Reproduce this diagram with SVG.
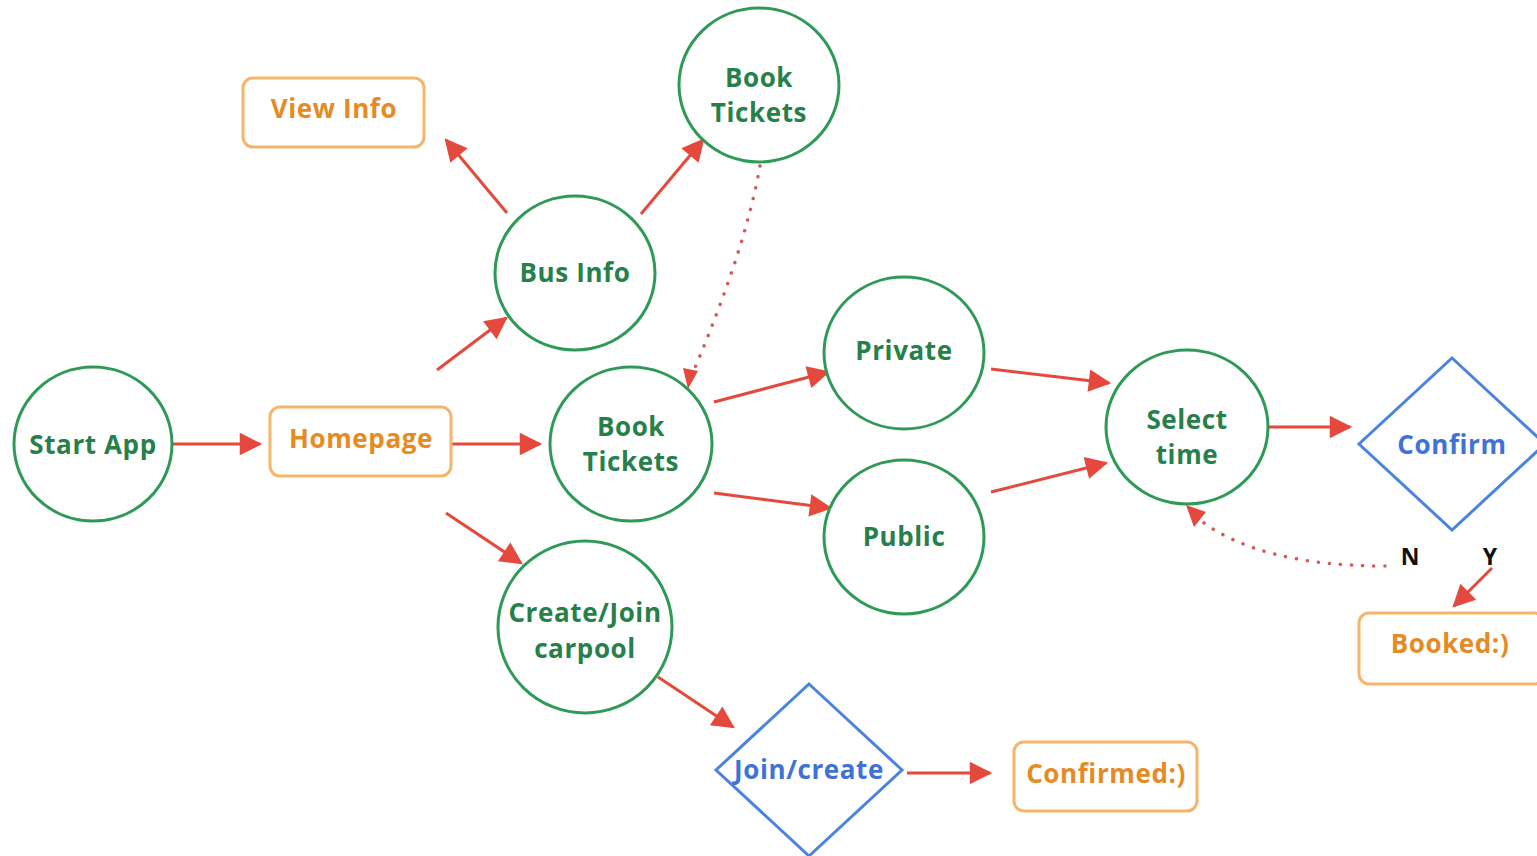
<svg xmlns="http://www.w3.org/2000/svg" width="1537" height="856" viewBox="0 0 1537 856">
<style>
.c{fill:#fff;stroke:#2f9a57;stroke-width:3}
.r{fill:#fff;stroke:#f5b56b;stroke-width:3}
.d{fill:#fff;stroke:#4a84e0;stroke-width:3}
text{font-family:"Open Sans","Liberation Sans",sans-serif;font-weight:700;font-size:26px;letter-spacing:0.6px;text-anchor:middle;dominant-baseline:central}
.tg{fill:#25804a}
.to{fill:#e68a24}
.tb{fill:#3f72d6}
.tk{fill:#111;font-size:23px;letter-spacing:0}
.a{fill:none;stroke:#e5483c;stroke-width:3}
.dt{fill:none;stroke:#d45b55;stroke-width:3.5;stroke-dasharray:0.1 11;stroke-linecap:round}
</style>
<defs>
<marker id="ah" viewBox="0 0 10 10" refX="9" refY="5" markerWidth="8.5" markerHeight="7.5" markerUnits="strokeWidth" orient="auto">
<path d="M0,0 L10,5 L0,10 z" fill="#e5483c"/>
</marker>
</defs>
<rect width="1537" height="856" fill="#fff"/>
<g id="connectors">
<line class="a" x1="173" y1="444" x2="260" y2="444" marker-end="url(#ah)"/>
<line class="a" x1="452" y1="444" x2="540" y2="444" marker-end="url(#ah)"/>
<line class="a" x1="437" y1="370" x2="506" y2="318" marker-end="url(#ah)"/>
<line class="a" x1="446" y1="513" x2="521" y2="563" marker-end="url(#ah)"/>
<line class="a" x1="507" y1="213" x2="446" y2="140" marker-end="url(#ah)"/>
<line class="a" x1="641" y1="214" x2="703" y2="140" marker-end="url(#ah)"/>
<path class="dt" d="M760,166 Q745,250 694,370"/>
<path d="M683,368 L698,371 L688,389 z" fill="#e5483c"/>
<line class="a" x1="714" y1="402" x2="828" y2="372" marker-end="url(#ah)"/>
<line class="a" x1="714" y1="493" x2="830" y2="508" marker-end="url(#ah)"/>
<line class="a" x1="991" y1="369" x2="1109" y2="383" marker-end="url(#ah)"/>
<line class="a" x1="991" y1="492" x2="1106" y2="463" marker-end="url(#ah)"/>
<line class="a" x1="1268" y1="427" x2="1350" y2="427" marker-end="url(#ah)"/>
<path class="dt" d="M1385,566 Q1260,566 1200,520"/>
<path d="M1186,505 L1206,512 L1194,527 z" fill="#e5483c"/>
<line class="a" x1="1492" y1="568" x2="1454" y2="606" marker-end="url(#ah)"/>
<line class="a" x1="658" y1="677" x2="733" y2="727" marker-end="url(#ah)"/>
<line class="a" x1="907" y1="773" x2="990" y2="773" marker-end="url(#ah)"/>
</g>
<g id="start"><ellipse class="c" cx="93" cy="444" rx="79" ry="77"/><text class="tg" x="93" y="444">Start App</text></g>
<g id="homepage"><rect class="r" x="270" y="407" width="181" height="69" rx="10"/><text class="to" x="361" y="438">Homepage</text></g>
<g id="viewinfo"><rect class="r" x="243" y="78" width="181" height="69" rx="10"/><text class="to" x="334" y="108">View Info</text></g>
<g id="businfo"><ellipse class="c" cx="575" cy="273" rx="80" ry="77"/><text class="tg" x="575" y="272">Bus Info</text></g>
<g id="booktop"><ellipse class="c" cx="759" cy="85" rx="80" ry="77"/><text class="tg" x="759" y="77">Book</text><text class="tg" x="759" y="112">Tickets</text></g>
<g id="bookmid"><ellipse class="c" cx="631" cy="444" rx="81" ry="77"/><text class="tg" x="631" y="426">Book</text><text class="tg" x="631" y="461">Tickets</text></g>
<g id="private"><ellipse class="c" cx="904" cy="353" rx="80" ry="76"/><text class="tg" x="904" y="350">Private</text></g>
<g id="public"><ellipse class="c" cx="904" cy="537" rx="80" ry="77"/><text class="tg" x="904" y="536">Public</text></g>
<g id="carpool"><ellipse class="c" cx="585" cy="627" rx="87" ry="86"/><text class="tg" x="585" y="612">Create/Join</text><text class="tg" x="585" y="648">carpool</text></g>
<g id="selecttime"><ellipse class="c" cx="1187" cy="427" rx="81" ry="77"/><text class="tg" x="1187" y="419">Select</text><text class="tg" x="1187" y="454">time</text></g>
<g id="confirm"><polygon class="d" points="1452,358 1545,444 1452,530 1359,444"/><text class="tb" x="1452" y="444">Confirm</text></g>
<g id="booked"><rect class="r" x="1359" y="613" width="185" height="71" rx="10"/><text class="to" x="1450" y="643">Booked:)</text></g>
<g id="labels"><text class="tk" x="1410" y="556">N</text><text class="tk" x="1490" y="556">Y</text></g>
<g id="joincreate"><polygon class="d" points="809,684 902,770 809,856 716,770"/><text class="tb" x="809" y="769">Join/create</text></g>
<g id="confirmed"><rect class="r" x="1014" y="742" width="183" height="69" rx="10"/><text class="to" x="1106" y="773">Confirmed:)</text></g>
</svg>
